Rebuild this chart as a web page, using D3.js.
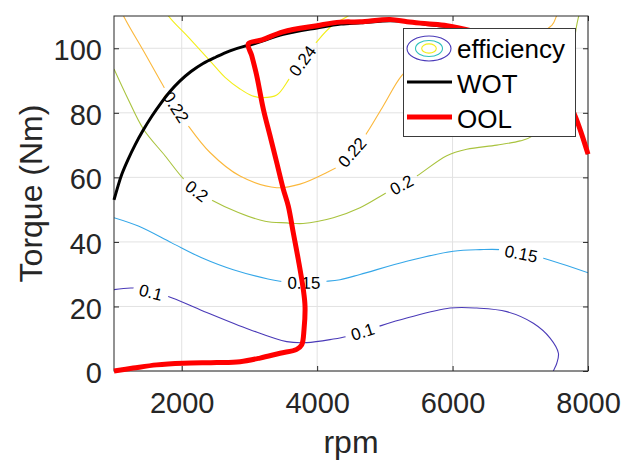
<!DOCTYPE html>
<html>
<head>
<meta charset="utf-8">
<script src="https://cdn.jsdelivr.net/npm/d3@7/dist/d3.min.js"></script>
<style>
  body { margin: 0; background: #fff; }
  svg { display: block; font-family: 'Liberation Sans', Arial, Helvetica, sans-serif; }
</style>
</head>
<body>
<svg id="chart" width="622" height="460"></svg>
<script>
// ---- axis setup -------------------------------------------------------
const rpmDomain = [1000, 8000];
const torqueDomain = [0, 110];
const xTicks = [2000, 4000, 6000, 8000];
const yTicks = [0, 20, 40, 60, 80, 100];

// ---- efficiency iso-lines, traced as [rpm, torque (Nm)] -----------------
const contourLevels = [0.1, 0.15, 0.2, 0.22, 0.24];

const eff010 = [[1000,25.2],[1285,25.7],[1546,24.4],[1802,23.1],[2270,19.0],[3009,12.8],
  [3551,9.1],[3846,8.8],[4239,9.9],[4437,10.7],[4670,12.2],[4904,13.8],[5323,16.4],
  [5963,19.5],[6357,19.5],[6800,18.4],[7193,14.8],[7440,10.2],[7563,5.5],[7539,2.4],
  [7489,0],[7460,-2]];
const eff015 = [[1000,47.5],[1359,44.9],[1852,39.7],[2295,35.1],[2762,31.4],[3452,27.8],
  [3806,27.4],[4142,27.8],[4338,28.3],[4633,29.9],[5323,34.0],[6011,37.1],[6406,37.6],
  [6701,37.6],[7011,36.4],[7317,35.1],[8006,30.4]];
const eff020 = [[1000,93.6],[1207,84.3],[1433,75.0],[1753,66.7],[2024,59.6],[2221,55.8],
  [2418,53.2],[2836,49.1],[3230,46.4],[3551,45.9],[3792,45.7],[4239,47.5],[4633,50.6],
  [5028,55.3],[5246,57.7],[5471,60.4],[5914,66.7],[6209,68.7],[6653,70.0],[6997,71.3],
  [7170,72.7],[7514,81.2],[7735,93.6],[7824,106.1],[7854,109.2],[7898,112.3]];
const eff022 = [[1103,112.3],[1137,110.2],[1443,98.9],[1753,87.4],[1916,81.8],[2097,76.0],
  [2418,67.7],[2861,60.4],[3403,56.8],[3747,57.9],[4142,61.5],[4313,63.5],[4515,67.8],
  [4707,72.9],[4978,82.2],[5249,91.5],[5520,96.7],[6258,99.8],[6997,102.3],[7465,107.1],
  [7539,110.2],[7588,112.3]];
const eff024 = [[1750,112.5],[1798,110.2],[2108,103.2],[2418,96.1],[2640,91.0],[2861,87.4],
  [3038,85.3],[3200,84.7],[3403,85.5],[3600,90.9],[3781,96.1],[3994,102.0],[4230,107.2],
  [4490,110.5],[4560,112.3]];

// where each level carries its inline value label
const labels010 = [[1546,24.4],[4670,12.2]];
const labels015 = [[3806,27.4],[7011,36.4]];
const labels020 = [[2221,55.8],[5246,57.7]];
const labels022 = [[1916,81.8],[4515,67.8]];
const labels024 = [[3781,96.1]];

// ---- wide-open-throttle and optimal operating line ----------------------
const wot = [[1000,53.0],[1059,57.3],[1118,61.1],[1207,65.5],[1310,70.0],[1428,74.5],
  [1561,79.0],[1694,83.0],[1827,86.6],[1975,89.9],[2137,92.8],[2315,95.3],[2507,97.3],
  [2713,99.2],[2920,100.6],[3009,101.0],[3200,102.3],[3500,104.3],[4000,106.3],
  [4350,107.5],[4650,107.9],[5080,108.5],[5330,108.2],[5620,107.4],[5920,106.7],
  [6300,105.0],[6700,102.5],[7100,97.5],[7450,90.0],[7700,83.5],[7810,79.0],[7900,73.5],
  [8000,67.2]];
const ool = [[1000,0],[1285,0.9],[1631,1.9],[2024,2.4],[2517,2.6],[2861,2.9],[3156,4.0],
  [3452,5.5],[3698,6.7],[3772,8.1],[3806,12.8],[3821,20.0],[3796,25.2],[3722,34.5],
  [3648,42.8],[3574,51.1],[3501,56.3],[3403,64.6],[3304,72.9],[3205,81.2],[3108,91.5],
  [3034,97.7],[2984,101.4],[3186,102.6],[3496,105.1],[3998,107.0],[4338,108.1],
  [4633,108.2],[5077,108.9],[5328,108.2],[5623,107.6],[5918,107.0],[6300,105.3],
  [6700,102.8],[7100,97.8],[7450,90.3],[7700,83.8],[7809,79.0],[7900,73.8],[8000,67.2]];

const contourSeries = [
  { level: contourLevels[0], points: eff010, labels: labels010 },
  { level: contourLevels[1], points: eff015, labels: labels015 },
  { level: contourLevels[2], points: eff020, labels: labels020 },
  { level: contourLevels[3], points: eff022, labels: labels022 },
  { level: contourLevels[4], points: eff024, labels: labels024 }
];
const levelColor = d3.scaleOrdinal()
  .domain(contourLevels)
  .range(['#4a3ab8', '#35a7e8', '#a9c33e', '#fbb83c', '#f3ee1a']);

// ---- layout --------------------------------------------------------------
const plot = { left: 114, right: 588, top: 16, bottom: 371 };
const axisInk = '#262626';
const svg = d3.select('#chart');

const x = d3.scaleLinear().domain(rpmDomain).range([plot.left, plot.right]);
const y = d3.scaleLinear().domain(torqueDomain).range([plot.bottom, plot.top]);

const defs = svg.append('defs');
defs.append('clipPath').attr('id', 'plotClip')
  .append('rect')
  .attr('x', plot.left).attr('y', plot.top)
  .attr('width', plot.right - plot.left).attr('height', plot.bottom - plot.top);
const gapMask = defs.append('mask').attr('id', 'labelGaps')
  .attr('maskUnits', 'userSpaceOnUse')
  .attr('x', 0).attr('y', 0).attr('width', 622).attr('height', 460);
gapMask.append('rect').attr('width', 622).attr('height', 460).attr('fill', '#fff');

// grid
const grid = svg.append('g').attr('stroke', '#e2e2e2').attr('stroke-width', 1);
grid.selectAll('line.gx').data(xTicks).join('line')
  .attr('x1', d => x(d)).attr('x2', d => x(d))
  .attr('y1', plot.top).attr('y2', plot.bottom);
grid.selectAll('line.gy').data(yTicks).join('line')
  .attr('y1', d => y(d)).attr('y2', d => y(d))
  .attr('x1', plot.left).attr('x2', plot.right);

// contour lines
const smooth = d3.line()
  .x(d => x(d[0])).y(d => y(d[1]))
  .curve(d3.curveCatmullRom.alpha(0.5));

const contourClip = svg.append('g').attr('clip-path', 'url(#plotClip)');
const contourLines = contourClip.append('g').attr('mask', 'url(#labelGaps)');
const labelLayer = svg.append('g')
  .attr('font-size', 17).attr('fill', '#000').attr('text-anchor', 'middle');

contourSeries.forEach(series => {
  const path = contourLines.append('path')
    .attr('d', smooth(series.points))
    .attr('fill', 'none')
    .attr('stroke', levelColor(series.level))
    .attr('stroke-width', 1.1);
  const node = path.node();
  const total = node.getTotalLength();

  series.labels.forEach(anchor => {
    const ax = x(anchor[0]), ay = y(anchor[1]);
    // nearest point along the drawn curve
    let best = 0, bestD = Infinity;
    for (let s = 0; s <= total; s += 0.5) {
      const p = node.getPointAtLength(s);
      const dd = (p.x - ax) ** 2 + (p.y - ay) ** 2;
      if (dd < bestD) { bestD = dd; best = s; }
    }
    const c = node.getPointAtLength(best);
    const p0 = node.getPointAtLength(Math.max(0, best - 6));
    const p1 = node.getPointAtLength(Math.min(total, best + 6));
    let ang = Math.atan2(p1.y - p0.y, p1.x - p0.x) * 180 / Math.PI;
    if (ang > 90) ang -= 180;
    if (ang < -90) ang += 180;

    const label = labelLayer.append('text')
      .attr('transform', `translate(${c.x},${c.y}) rotate(${ang})`)
      .attr('dy', '0.36em')
      .text(String(series.level));
    const w = label.node().getComputedTextLength();
    gapMask.append('rect')
      .attr('x', -(w + 12) / 2).attr('y', -7)
      .attr('width', w + 12).attr('height', 14)
      .attr('fill', '#000')
      .attr('transform', `translate(${c.x},${c.y}) rotate(${ang})`);
  });
});

// axes box and ticks
const tickFont = 29;
const plain = d3.format('d');
const xAxis = svg.append('g').attr('transform', `translate(0,${plot.bottom})`)
  .call(d3.axisBottom(x).tickValues(xTicks).tickFormat(plain)
    .tickSizeInner(-5).tickSizeOuter(0).tickPadding(21));
const yAxis = svg.append('g').attr('transform', `translate(${plot.left},0)`)
  .call(d3.axisLeft(y).tickValues(yTicks).tickFormat(plain)
    .tickSizeInner(-5).tickSizeOuter(0).tickPadding(12));
const xTop = svg.append('g').attr('transform', `translate(0,${plot.top})`)
  .call(d3.axisTop(x).tickValues(xTicks).tickSizeInner(-5).tickSizeOuter(0).tickFormat(''));
const yRight = svg.append('g').attr('transform', `translate(${plot.right},0)`)
  .call(d3.axisRight(y).tickValues(yTicks).tickSizeInner(-5).tickSizeOuter(0).tickFormat(''));
[xAxis, yAxis, xTop, yRight].forEach(g => {
  g.select('.domain').remove();
  g.selectAll('.tick line').attr('stroke', axisInk);
  g.selectAll('.tick text')
    .attr('font-size', tickFont).attr('fill', axisInk)
    .attr('font-family', "'Liberation Sans', Arial, Helvetica, sans-serif");
});
yAxis.selectAll('.tick text').attr('dy', '0.4em');

svg.append('rect')
  .attr('x', plot.left).attr('y', plot.top)
  .attr('width', plot.right - plot.left).attr('height', plot.bottom - plot.top)
  .attr('fill', 'none').attr('stroke', axisInk).attr('stroke-width', 1);

// axis titles
svg.append('text')
  .attr('x', (plot.left + plot.right) / 2).attr('y', 453)
  .attr('text-anchor', 'middle').attr('font-size', 32).attr('fill', axisInk)
  .text('rpm');
svg.append('text')
  .attr('transform', `translate(42,${(plot.top + plot.bottom) / 2}) rotate(-90)`)
  .attr('text-anchor', 'middle').attr('font-size', 32).attr('fill', axisInk)
  .text('Torque (Nm)');

// full-load and operating lines
const traced = d3.line().x(d => x(d[0])).y(d => y(d[1])).curve(d3.curveCatmullRom.alpha(0.5));
svg.append('path').attr('d', traced(wot))
  .attr('fill', 'none').attr('stroke', '#000').attr('stroke-width', 3)
  .attr('stroke-linejoin', 'round');
svg.append('path').attr('d', traced(ool))
  .attr('fill', 'none').attr('stroke', '#ff0000').attr('stroke-width', 5)
  .attr('stroke-linejoin', 'round');

// legend
const legend = svg.append('g');
legend.append('rect')
  .attr('x', 403.5).attr('y', 28.5).attr('width', 172).attr('height', 108)
  .attr('fill', '#fff').attr('stroke', '#3a3a3a').attr('stroke-width', 1);
const iconCx = 429, iconCy = 48.5;
[[22, 12.5, levelColor(contourLevels[0])], [13.5, 8, '#2fc1bd'], [7.3, 4.6, levelColor(contourLevels[4])]]
  .forEach(([rx, ry, col]) => {
    legend.append('ellipse')
      .attr('cx', iconCx).attr('cy', iconCy).attr('rx', rx).attr('ry', ry)
      .attr('fill', 'none').attr('stroke', col).attr('stroke-width', 1.1);
  });
legend.append('line').attr('x1', 407).attr('x2', 452).attr('y1', 82).attr('y2', 82)
  .attr('stroke', '#000').attr('stroke-width', 3);
legend.append('line').attr('x1', 407).attr('x2', 452).attr('y1', 117).attr('y2', 117)
  .attr('stroke', '#ff0000').attr('stroke-width', 5);
const legendText = [['efficiency', 58], ['WOT', 93], ['OOL', 128]];
legend.selectAll('text.entry').data(legendText).join('text')
  .attr('x', 457).attr('y', d => d[1])
  .attr('font-size', 26).attr('fill', '#000')
  .text(d => d[0]);
</script>
</body>
</html>
